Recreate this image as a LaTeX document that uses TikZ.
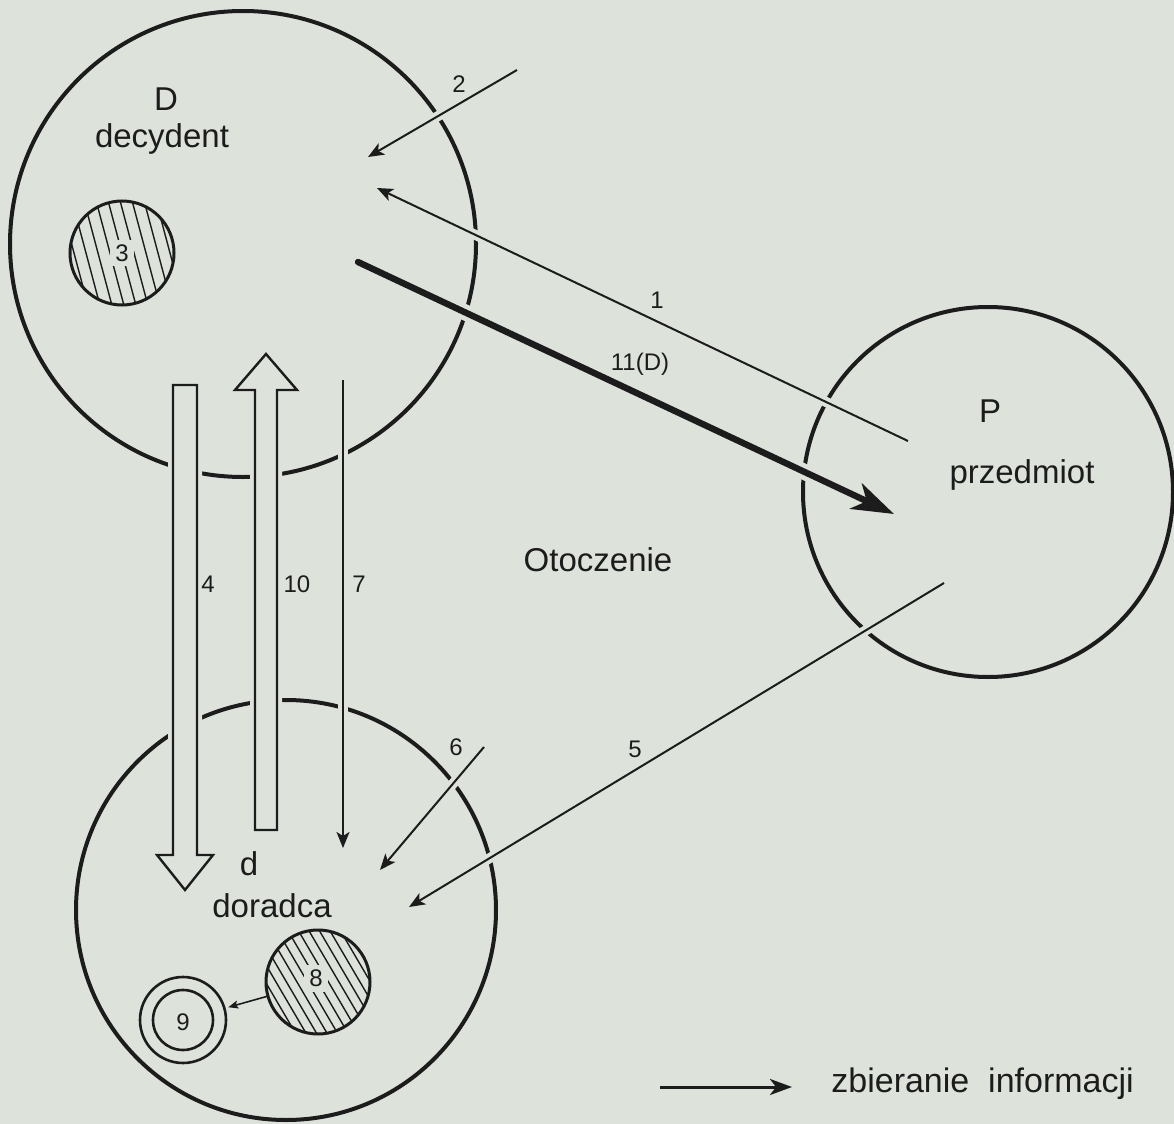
\documentclass[tikz,border=0pt]{standalone}
\usepackage{fontspec}
\setmainfont{Liberation Sans}
\usetikzlibrary{arrows.meta,calc}
\definecolor{bg}{RGB}{221,227,219}
\definecolor{ink}{RGB}{28,28,28}
\tikzset{
  ring/.style={circle, draw=ink, line width=2pt, inner sep=0pt, outer sep=0pt, minimum size=#1},
  smallring/.style={circle, draw=ink, line width=1.3pt, inner sep=0pt, outer sep=0pt, minimum size=#1},
  halo/.style={draw=bg, line width=#1},
  conn/.style={draw=ink, line width=1pt, -{Stealth[length=8pt,width=6.5pt,inset=2pt]}},
  thickconn/.style={draw=ink, line width=3.2pt, line cap=round, -{Stealth[length=21pt,width=14pt,inset=6pt]}},
  smallconn/.style={draw=ink, line width=0.8pt, -{Stealth[length=5pt,width=4pt,inset=1pt]}},
  legconn/.style={draw=ink, line width=1.5pt, -{Stealth[length=11pt,width=8pt,inset=3pt]}},
  hollow/.style={draw=ink, fill=bg, line width=1.2pt, line join=miter},
  hatchline/.style={draw=ink, line width=0.7pt},
  word/.style={font=\fontsize{16.5}{18}\selectfont, text=ink, inner sep=0pt},
  num/.style={font=\fontsize{12}{14}\selectfont, text=ink, inner sep=0pt},
  numgap/.style={font=\fontsize{12}{14}\selectfont, text=ink, fill=bg, inner sep=2.5pt},
}
\begin{document}
\begin{tikzpicture}[x=0.5pt, y=-0.5pt]
\fill[bg] (0,0) rectangle (1174,1124);
\useasboundingbox (0,0) rectangle (1174,1124);

% main circles
\node[ring=233pt] (D) at (243,244) {};
\node[ring=185pt] (P) at (988,492) {};
\node[ring=210pt] (d) at (286,910) {};

% hatched circle 3
\coordinate (c3c) at (122,253);
\begin{scope}
  \clip (c3c) circle [radius=26pt];
  \foreach \k in {-6,...,6}
    \draw[hatchline] ($(c3c)+({12*\k-20},-75)$) -- ($(c3c)+({12*\k+20},75)$);
\end{scope}
\node[smallring=52pt, line width=1.5pt] (c3) at (c3c) {};
\node[numgap] (l3) at (c3c) {3};

% hatched circle 8
\coordinate (c8c) at (318,982);
\begin{scope}
  \clip (c8c) circle [radius=26pt];
  \foreach \k in {-9,...,9}
    \draw[hatchline] ($(c8c)+({10.5*\k-44},-75)$) -- ($(c8c)+({10.5*\k+44},75)$);
\end{scope}
\node[smallring=52pt, line width=1.5pt] (c8) at (c8c) {};
\node[numgap] (l8) at ($(c8c)+(-2,-4)$) {8};

% double circle 9
\node[smallring=43pt] (c9) at (183,1020) {};
\node[smallring=30pt] (c9i) at (183,1020) {};
\node[num] (l9) at (183,1022) {9};

% connector end points
\coordinate (a2s) at (517,70);   \coordinate (a2e) at (368,157);
\coordinate (a1s) at (908,441);  \coordinate (a1e) at (377,188);
\coordinate (a11s) at (358,262); \coordinate (a11e) at (894,514);
\coordinate (a5s) at (944,583);  \coordinate (a5e) at (409,907);
\coordinate (a6s) at (484,747);  \coordinate (a6e) at (380,870);
\coordinate (a7s) at (343,380);  \coordinate (a7e) at (343,848);
\coordinate (a4top) at (185,385); \coordinate (a4tip) at (185,890);
\coordinate (a10bot) at (266,830); \coordinate (a10tip) at (266,354);

% halos (gaps in the circles where lines cross)
\draw[halo=5pt] (a2s) -- (a2e);
\draw[halo=5pt] (a1s) -- (a1e);
\draw[halo=8pt] (a11s) -- (a11e);
\draw[halo=5pt] (a5s) -- (a5e);
\draw[halo=5pt] (a6s) -- (a6e);
\draw[halo=5pt] (a7s) -- (a7e);
\draw[halo=5pt] ($(a4top)+(-12,0)$) -- ($(a4tip)+(-12,-35)$) -- ($(a4tip)+(-28,-35)$) -- (a4tip)
   -- ($(a4tip)+(28,-35)$) -- ($(a4tip)+(12,-35)$) -- ($(a4top)+(12,0)$) -- cycle;
\draw[halo=5pt] ($(a10bot)+(-11,0)$) -- ($(a10tip)+(-11,36)$) -- ($(a10tip)+(-31,36)$) -- (a10tip)
   -- ($(a10tip)+(31,36)$) -- ($(a10tip)+(11,36)$) -- ($(a10bot)+(11,0)$) -- cycle;

% connectors
\draw[conn] (a2s) -- (a2e);
\draw[conn] (a1s) -- (a1e);
\draw[thickconn] (a11s) -- (a11e);
\draw[conn] (a5s) -- (a5e);
\draw[conn] (a6s) -- (a6e);
\draw[conn] (a7s) -- (a7e);
\draw[hollow] ($(a4top)+(-12,0)$) -- ($(a4tip)+(-12,-35)$) -- ($(a4tip)+(-28,-35)$) -- (a4tip)
   -- ($(a4tip)+(28,-35)$) -- ($(a4tip)+(12,-35)$) -- ($(a4top)+(12,0)$) -- cycle;
\draw[hollow] ($(a10bot)+(-11,0)$) -- ($(a10tip)+(-11,36)$) -- ($(a10tip)+(-31,36)$) -- (a10tip)
   -- ($(a10tip)+(31,36)$) -- ($(a10tip)+(11,36)$) -- ($(a10bot)+(11,0)$) -- cycle;
\draw[smallconn, shorten >=2pt] (c8) -- (c9);

% labels
\node[word, anchor=base] (tD) at (166,110) {D};
\node[word, anchor=base] (tdec) at (162,147) {decydent};
\node[word, anchor=base] (tP) at (990,422) {P};
\node[word, anchor=base] (tprz) at (1022,483) {przedmiot};
\node[word, anchor=base] (tot) at (598,571) {Otoczenie};
\node[word, anchor=base] (td) at (249,875) {d};
\node[word, anchor=base] (tdor) at (272,917) {doradca};

\node[num, anchor=base] (n2) at (459,92) {2};
\node[num, anchor=base] (n1) at (657,308) {1};
\node[num, anchor=base] (n11) at (640,370) {11(D)};
\node[num, anchor=base] (n4) at (208,592) {4};
\node[num, anchor=base] (n10) at (297,592) {10};
\node[num, anchor=base] (n7) at (359,592) {7};
\node[num, anchor=base] (n5) at (635,757) {5};
\node[num, anchor=base] (n6) at (456,755) {6};

% legend
\coordinate (lgs) at (660,1087);
\coordinate (lge) at (792,1087);
\draw[legconn] (lgs) -- (lge);
\node[word, font=\fontsize{17}{19}\selectfont, anchor=base west] (lgt) at (831,1092) {zbieranie\ \ informacji};
\end{tikzpicture}
\end{document}
